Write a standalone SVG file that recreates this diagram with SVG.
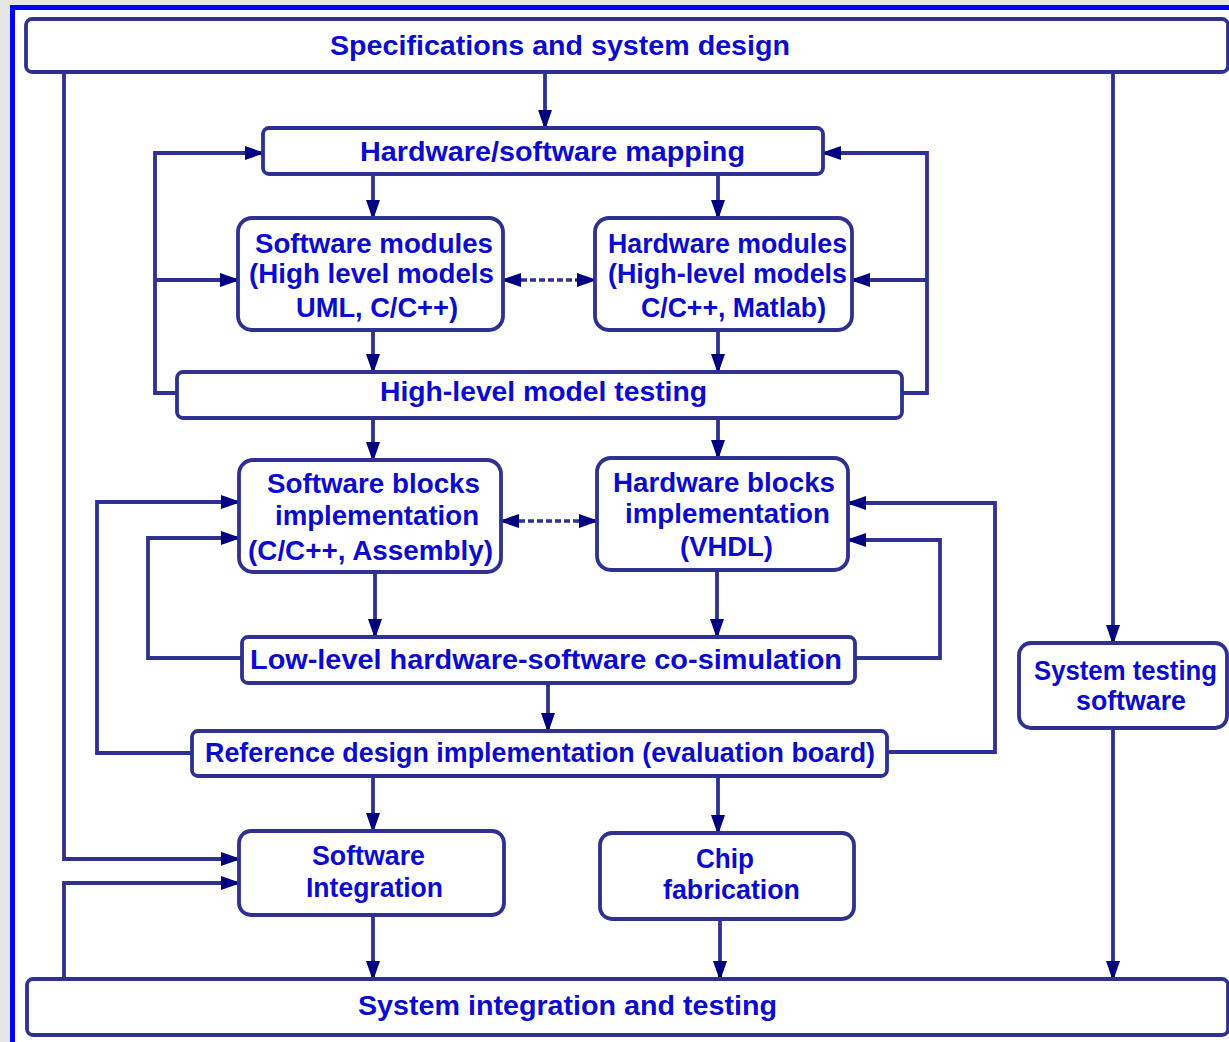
<svg xmlns="http://www.w3.org/2000/svg" width="1229" height="1042" viewBox="0 0 1229 1042">
<defs>
<style>
.box{fill:#ffffff;stroke:#2e3192;stroke-width:3.8}
.ln{fill:none;stroke:#2e3192;stroke-width:3.8;stroke-linejoin:miter}
.arr{marker-end:url(#ah)}
.dash{fill:none;stroke:#2e3192;stroke-width:3.5;stroke-dasharray:6 3;marker-start:url(#ah)}
.dash2{marker-end:url(#ah)}
text{font-family:"Liberation Sans",Arial,Helvetica,sans-serif;font-weight:bold;font-size:28px;fill:#0b0bd0}
</style>
<marker id="ah" markerUnits="userSpaceOnUse" markerWidth="20" markerHeight="15" viewBox="0 0 20 15" refX="18" refY="7.5" orient="auto-start-reverse">
<path d="M0,0.5 L20,7.5 L0,14.5 z" fill="#000080"/>
</marker>
</defs>
<rect x="0" y="0" width="1229" height="1042" fill="#e6e6e6"/>
<rect x="12.5" y="7.5" width="1240" height="1060" fill="#ffffff" stroke="#0000ff" stroke-width="5"/>

<g id="connectors">
<path class="ln arr" d="M545,72 V128"/>
<path class="ln arr" d="M64,72 V859 H239"/>
<path class="ln arr" d="M1113,72 V643"/>
<path class="ln arr" d="M1113,728 V979"/>
<path class="ln arr" d="M64,979 V883 H239"/>
<path class="ln arr" d="M373,174 V218"/>
<path class="ln arr" d="M718,174 V218"/>
<path class="ln arr" d="M177,393 H155 V153 H263"/>
<path class="ln arr" d="M155,280 H238"/>
<path class="ln arr" d="M902,393 H927 V153 H823"/>
<path class="ln arr" d="M927,280 H852"/>
<path class="dash dash2" d="M503,280 H595"/>
<path class="ln arr" d="M373,330 V372"/>
<path class="ln arr" d="M718,330 V372"/>
<path class="ln arr" d="M373,418 V460"/>
<path class="ln arr" d="M718,418 V458"/>
<path class="dash dash2" d="M501,521 H597"/>
<path class="ln arr" d="M375,572 V637"/>
<path class="ln arr" d="M717,570 V637"/>
<path class="ln arr" d="M242,658 H148 V538 H239"/>
<path class="ln arr" d="M855,658 H940 V540 H848"/>
<path class="ln arr" d="M548,683 V731"/>
<path class="ln arr" d="M192,753 H97 V502 H239"/>
<path class="ln arr" d="M887,752 H995 V503 H848"/>
<path class="ln arr" d="M373,776 V831"/>
<path class="ln arr" d="M718,776 V833"/>
<path class="ln arr" d="M373,915 V979"/>
<path class="ln arr" d="M720,919 V979"/>
</g>

<g id="spec">
<rect class="box" x="26" y="19" width="1202" height="53" rx="6"/>
<text x="330" y="55" textLength="460" lengthAdjust="spacingAndGlyphs">Specifications and system design</text>
</g>
<g id="hsmapping">
<rect class="box" x="263" y="128" width="560" height="46" rx="6"/>
<text x="360" y="161" textLength="385" lengthAdjust="spacingAndGlyphs">Hardware/software mapping</text>
</g>
<g id="swmodules">
<rect class="box" x="238" y="218" width="265" height="112" rx="14"/>
<text x="255" y="253" textLength="238" lengthAdjust="spacingAndGlyphs">Software modules</text>
<text x="249" y="283" textLength="245" lengthAdjust="spacingAndGlyphs">(High level models</text>
<text x="296" y="317" textLength="162" lengthAdjust="spacingAndGlyphs">UML, C/C++)</text>
</g>
<g id="hwmodules">
<rect class="box" x="595" y="218" width="257" height="112" rx="14"/>
<text x="608" y="253" textLength="239" lengthAdjust="spacingAndGlyphs">Hardware modules</text>
<text x="608" y="283" textLength="239" lengthAdjust="spacingAndGlyphs">(High-level models</text>
<text x="641" y="317" textLength="185" lengthAdjust="spacingAndGlyphs">C/C++, Matlab)</text>
</g>
<g id="hlmt">
<rect class="box" x="177" y="372" width="725" height="46" rx="6"/>
<text x="380" y="401" textLength="327" lengthAdjust="spacingAndGlyphs">High-level model testing</text>
</g>
<g id="swblocks">
<rect class="box" x="239" y="460" width="262" height="112" rx="14"/>
<text x="267" y="493" textLength="213" lengthAdjust="spacingAndGlyphs">Software blocks</text>
<text x="275" y="525" textLength="204" lengthAdjust="spacingAndGlyphs">implementation</text>
<text x="248" y="560" textLength="245" lengthAdjust="spacingAndGlyphs">(C/C++, Assembly)</text>
</g>
<g id="hwblocks">
<rect class="box" x="597" y="458" width="251" height="112" rx="14"/>
<text x="613" y="492" textLength="222" lengthAdjust="spacingAndGlyphs">Hardware blocks</text>
<text x="625" y="523" textLength="205" lengthAdjust="spacingAndGlyphs">implementation</text>
<text x="680" y="556" textLength="93" lengthAdjust="spacingAndGlyphs">(VHDL)</text>
</g>
<g id="cosim">
<rect class="box" x="242" y="637" width="613" height="46" rx="6"/>
<text x="250" y="669" textLength="592" lengthAdjust="spacingAndGlyphs">Low-level hardware-software co-simulation</text>
</g>
<g id="refdesign">
<rect class="box" x="192" y="731" width="695" height="45" rx="6"/>
<text x="205" y="762" textLength="670" lengthAdjust="spacingAndGlyphs">Reference design implementation (evaluation board)</text>
</g>
<g id="swintegration">
<rect class="box" x="239" y="831" width="265" height="84" rx="12"/>
<text x="312" y="865" textLength="113" lengthAdjust="spacingAndGlyphs">Software</text>
<text x="306" y="897" textLength="137" lengthAdjust="spacingAndGlyphs">Integration</text>
</g>
<g id="chip">
<rect class="box" x="600" y="833" width="254" height="86" rx="12"/>
<text x="696" y="868" textLength="58" lengthAdjust="spacingAndGlyphs">Chip</text>
<text x="663" y="899" textLength="137" lengthAdjust="spacingAndGlyphs">fabrication</text>
</g>
<g id="systesting">
<rect class="box" x="1019" y="643" width="208" height="85" rx="12"/>
<text x="1034" y="680" textLength="183" lengthAdjust="spacingAndGlyphs">System testing</text>
<text x="1076" y="710" textLength="110" lengthAdjust="spacingAndGlyphs">software</text>
</g>
<g id="sysintegration">
<rect class="box" x="27" y="979" width="1201" height="56" rx="6"/>
<text x="358" y="1015" textLength="419" lengthAdjust="spacingAndGlyphs">System integration and testing</text>
</g>
</svg>
